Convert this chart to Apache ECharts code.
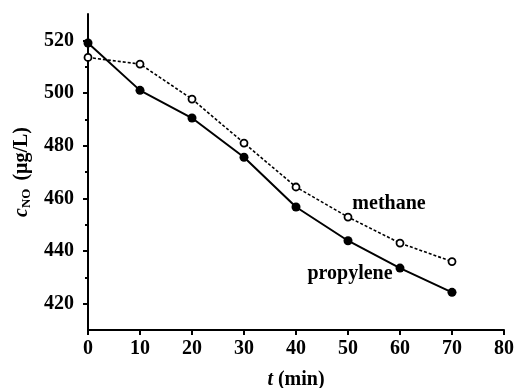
<!DOCTYPE html>
<html>
<head>
<meta charset="utf-8">
<script src="https://cdn.jsdelivr.net/npm/echarts@6/dist/echarts.min.js"></script>
<style>
  html, body { margin: 0; padding: 0; background: #fff; }
  #chart { width: 517px; height: 388px; }
</style>
</head>
<body>
<div id="chart"></div>
<script>
// 时间 (min)
let times = [0, 10, 20, 30, 40, 50, 60, 70];
// NO 浓度
let methane = [513.5, 511, 497.7, 481, 464.3, 452.9, 443, 436];
let propylene = [519, 501, 490.5, 475.6, 456.7, 443.9, 433.5, 424.3];
// 刻度
let yTicks = [420, 440, 460, 480, 500, 520];
let yMinor = [430, 450, 470, 490, 510];

let font = 'Liberation Serif, Times New Roman, serif';

function pairs(vals, labelIdx, labelText, offset) {
    return vals.map(function (v, i) {
        let item = { value: [times[i], v] };
        if (i === labelIdx) {
            item.label = {
                show: true,
                formatter: labelText,
                position: 'inside',
                offset: offset,
                color: '#000',
                fontFamily: font,
                fontSize: 20,
                fontWeight: 'bold'
            };
        }
        return item;
    });
}

let chart = echarts.init(document.getElementById('chart'));
let option = {
    animation: false,
    backgroundColor: '#fff',
    grid: { left: 88, right: 13, top: 14, bottom: 58, outerBoundsMode: 'none', containLabel: false },
    xAxis: {
        type: 'value',
        min: 0,
        max: 80,
        interval: 10,
        name: '{i|t} (min)',
        nameLocation: 'middle',
        nameGap: 40,
        nameTextStyle: {
            color: '#000',
            fontFamily: font,
            fontSize: 20,
            fontWeight: 'bold',
            rich: {
                i: { fontStyle: 'italic', fontFamily: font, fontSize: 20, fontWeight: 'bold', color: '#000' }
            }
        },
        axisLine: { lineStyle: { color: '#000', width: 2 } },
        axisTick: { inside: false, length: 5, lineStyle: { color: '#000', width: 2 } },
        axisLabel: { color: '#000', fontFamily: font, fontSize: 20, fontWeight: 'bold', margin: 9 },
        splitLine: { show: false }
    },
    yAxis: [{
        type: 'value',
        min: 410,
        max: 530,
        name: '{i|c}{s|NO} (μg/L)',
        nameLocation: 'middle',
        nameGap: 53,
        nameRotate: 90,
        nameTextStyle: {
            color: '#000',
            fontFamily: font,
            fontSize: 20,
            fontWeight: 'bold',
            rich: {
                i: { fontStyle: 'italic', fontFamily: font, fontSize: 20, fontWeight: 'bold', color: '#000' },
                s: { fontFamily: font, fontSize: 13, fontWeight: 'bold', color: '#000', verticalAlign: 'bottom', padding: [9, 3, 0, 0] }
            }
        },
        axisLine: { show: true, lineStyle: { color: '#000', width: 2 } },
        axisTick: { show: true, length: 5, customValues: yTicks, lineStyle: { color: '#000', width: 2 } },
        axisLabel: { customValues: yTicks, color: '#000', fontFamily: font, fontSize: 20, fontWeight: 'bold', margin: 14 },
        splitLine: { show: false }
    }, {
        type: 'value',
        min: 410,
        max: 530,
        position: 'left',
        axisLine: { show: false },
        axisTick: { show: true, length: 3, customValues: yMinor, lineStyle: { color: '#000', width: 2 } },
        axisLabel: { show: false },
        splitLine: { show: false }
    }],
    series: [{
        name: 'methane',
        type: 'line',
        data: pairs(methane, 5, 'methane', [41, -13]),
        symbol: 'circle',
        symbolSize: 7,
        itemStyle: { color: '#fff', borderColor: '#000', borderWidth: 1.8 },
        lineStyle: { color: '#000', width: 1.6, type: [3, 2] },
        z: 3
    }, {
        name: 'propylene',
        type: 'line',
        data: pairs(propylene, 5, 'propylene', [2, 33]),
        symbol: 'circle',
        symbolSize: 9,
        itemStyle: { color: '#000', borderColor: '#000', borderWidth: 0 },
        lineStyle: { color: '#000', width: 2 },
        z: 4
    }]
};
chart.setOption(option);
</script>
</body>
</html>
